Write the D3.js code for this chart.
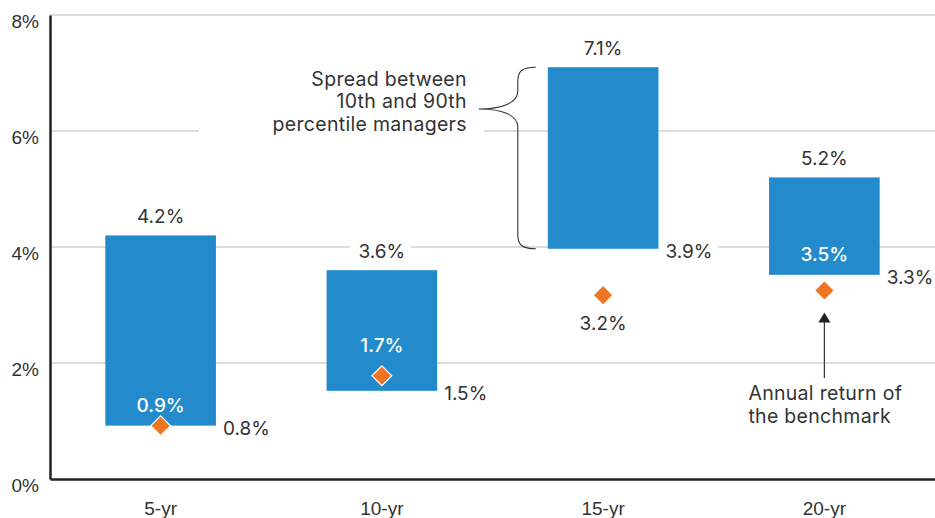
<!DOCTYPE html>
<html>
<head>
<meta charset="utf-8">
<script src="https://cdn.jsdelivr.net/npm/d3@7"></script>
<style>
  body { margin: 0; background: #fff; }
  svg { display: block; font-family: Inter, "Noto Sans", sans-serif; }
</style>
</head>
<body>
<div id="chart"></div>
<script>
const categories = ["5-yr", "10-yr", "15-yr", "20-yr"];
// 90th percentile (bar top), 10th percentile (bar bottom), benchmark (diamond)
const high90 = [4.2, 3.6, 7.1, 5.2];
const low10 = [0.92, 1.52, 3.97, 3.52];
const benchmark = [0.92, 1.78, 3.17, 3.25];
const highLabels = ["4.2%", "3.6%", "7.1%", "5.2%"];
const lowLabels = ["0.8%", "1.5%", "3.9%", "3.3%"];
const benchLabels = ["0.9%", "1.7%", "3.2%", "3.5%"];
const benchInside = [true, true, false, true];
const yTicks = [0, 2, 4, 6, 8];

const width = 935;
const height = 518;
const blue = "#238bcc";
const orange = "#ee7623";
const textColor = "#333";
const fs = 19; // numbers and axis labels
const noteFs = 19.5; // annotation text

const data = categories.map((c, i) => ({
  cat: c,
  high: high90[i],
  low: low10[i],
  bench: benchmark[i],
  highLabel: highLabels[i],
  lowLabel: lowLabels[i],
  benchLabel: benchLabels[i],
  inside: benchInside[i],
}));

const svg = d3.select("#chart").append("svg")
  .attr("width", width)
  .attr("height", height);

const x = d3.scaleBand()
  .domain(categories)
  .range([50, width])
  .paddingInner(0.5)
  .paddingOuter(0.25);

const y = d3.scaleLinear()
  .domain([0, 8])
  .range([479, 15]);

// gridlines
svg.append("g")
  .selectAll("line")
  .data(yTicks.filter((d) => d > 0))
  .join("line")
  .attr("x1", 50)
  .attr("x2", width)
  .attr("y1", (d) => y(d))
  .attr("y2", (d) => y(d))
  .attr("stroke", "#d2d2d2")
  .attr("stroke-width", 1.5);

// annotation: spread between percentiles (white patch breaks the 6% line)
const bx = x("15-yr");
const yTop = y(7.1);
const yBot = y(3.97);
const noseX = bx - 69;
const noseY = 109;

svg.append("rect")
  .attr("x", noseX - 280)
  .attr("y", 68)
  .attr("width", 285)
  .attr("height", 72)
  .attr("fill", "#fff");

svg.append("path")
  .attr("d", `M${bx - 12},${yTop}
    C${bx - 26},${yTop} ${bx - 30},${yTop + 4} ${bx - 30},${yTop + 14}
    L${bx - 30},${noseY - 18}
    C${bx - 30},${noseY - 6} ${bx - 46},${noseY} ${noseX},${noseY}
    C${bx - 46},${noseY} ${bx - 30},${noseY + 6} ${bx - 30},${noseY + 18}
    L${bx - 30},${yBot - 14}
    C${bx - 30},${yBot - 4} ${bx - 26},${yBot} ${bx - 12},${yBot}`)
  .attr("fill", "none")
  .attr("stroke", "#333")
  .attr("stroke-width", 1.1);

svg.append("text")
  .attr("x", noseX - 12)
  .attr("y", 85.5)
  .attr("text-anchor", "end")
  .attr("font-size", noteFs)
  .attr("letter-spacing", 0.3)
  .attr("fill", textColor)
  .selectAll("tspan")
  .data(["Spread between", "10th and 90th", "percentile managers"])
  .join("tspan")
  .attr("x", noseX - 12)
  .attr("dy", (d, i) => (i === 0 ? 0 : 22.5))
  .text((d) => d);

// axes
const yAxis = svg.append("g")
  .attr("transform", "translate(50,0)")
  .call(d3.axisLeft(y).tickValues(yTicks).tickSize(0).tickFormat((d) => d + "%"));
yAxis.select(".domain").attr("stroke", "#222").attr("stroke-width", 2.5);
yAxis.selectAll("text")
  .attr("x", -11)
  .attr("dy", 12)
  .attr("font-size", fs)
  .attr("font-family", null)
  .attr("fill", textColor);

const xAxis = svg.append("g")
  .attr("transform", "translate(0,479)")
  .call(d3.axisBottom(x).tickSize(0).tickSizeOuter(0));
xAxis.select(".domain").attr("stroke", "#222").attr("stroke-width", 2.5);
xAxis.selectAll("text")
  .attr("y", 36)
  .attr("dy", 0)
  .attr("font-size", fs)
  .attr("font-family", null)
  .attr("fill", textColor);

// black value labels with white halo (drawn under the bars)
const halo = (sel) => sel
  .attr("font-size", fs)
  .attr("fill", textColor)
  .attr("stroke", "#fff")
  .attr("stroke-width", 20)
  .attr("stroke-linejoin", "round")
  .attr("paint-order", "stroke");

svg.append("g")
  .selectAll("text")
  .data(data)
  .join("text")
  .attr("x", (d) => x(d.cat) + x.bandwidth() / 2)
  .attr("y", (d) => y(d.high) - 12)
  .attr("text-anchor", "middle")
  .call(halo)
  .text((d) => d.highLabel);

svg.append("g")
  .selectAll("text")
  .data(data)
  .join("text")
  .attr("x", (d) => x(d.cat) + x.bandwidth() + 7)
  .attr("y", (d) => y(d.low) + 9)
  .call(halo)
  .text((d) => d.lowLabel);

svg.append("g")
  .selectAll("text")
  .data(data.filter((d) => !d.inside))
  .join("text")
  .attr("x", (d) => x(d.cat) + x.bandwidth() / 2)
  .attr("y", (d) => y(d.bench) + 35)
  .attr("text-anchor", "middle")
  .call(halo)
  .text((d) => d.benchLabel);

// bars
svg.append("g")
  .selectAll("rect")
  .data(data)
  .join("rect")
  .attr("x", (d) => x(d.cat))
  .attr("width", x.bandwidth())
  .attr("y", (d) => y(d.high))
  .attr("height", (d) => y(d.low) - y(d.high))
  .attr("fill", blue);

// benchmark diamonds
svg.append("g")
  .selectAll("rect")
  .data(data)
  .join("rect")
  .attr("x", -7)
  .attr("y", -7)
  .attr("width", 14)
  .attr("height", 14)
  .attr("transform", (d) => `translate(${x(d.cat) + x.bandwidth() / 2},${y(d.bench)}) rotate(45)`)
  .attr("fill", orange)
  .attr("stroke", "#fff")
  .attr("stroke-width", 1.2);

// white labels inside the bars
svg.append("g")
  .selectAll("text")
  .data(data.filter((d) => d.inside))
  .join("text")
  .attr("x", (d) => x(d.cat) + x.bandwidth() / 2)
  .attr("y", (d) => (d.bench > d.low + 0.2 ? y(d.bench) - 24 : y(d.low) - 14))
  .attr("text-anchor", "middle")
  .attr("font-size", fs)
  .attr("font-weight", 500)
  .attr("fill", "#fff")
  .text((d) => d.benchLabel);

// annotation: benchmark arrow
const ax = x("20-yr") + x.bandwidth() / 2;
const tipY = y(3.25) + 22;
svg.append("line")
  .attr("x1", ax)
  .attr("x2", ax)
  .attr("y1", tipY + 8)
  .attr("y2", 378)
  .attr("stroke", "#333")
  .attr("stroke-width", 1.2);
svg.append("path")
  .attr("d", `M${ax},${tipY} L${ax + 6},${tipY + 10} L${ax - 6},${tipY + 10} Z`)
  .attr("fill", "#222");

svg.append("text")
  .attr("x", ax - 76)
  .attr("y", 400)
  .attr("font-size", noteFs)
  .attr("letter-spacing", 0.3)
  .attr("fill", textColor)
  .selectAll("tspan")
  .data(["Annual return of", "the benchmark"])
  .join("tspan")
  .attr("x", ax - 76)
  .attr("dy", (d, i) => (i === 0 ? 0 : 22.5))
  .text((d) => d);
</script>
</body>
</html>
